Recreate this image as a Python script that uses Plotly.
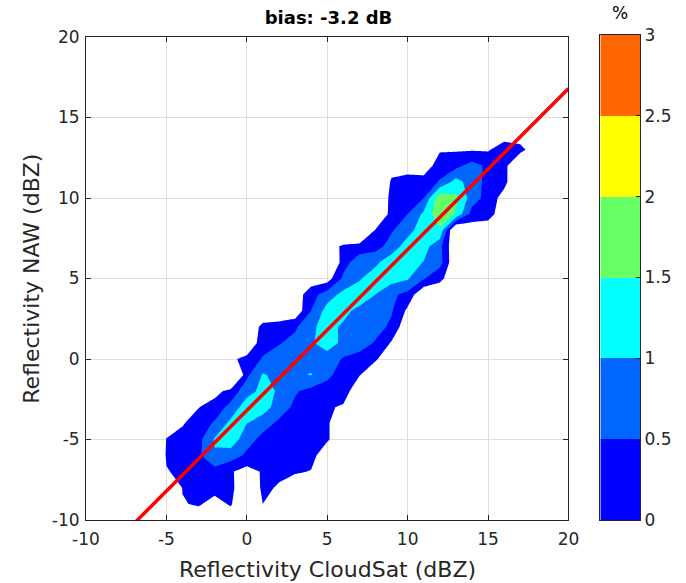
import numpy as np
import plotly.graph_objects as go

# ---------------- data ----------------
bias_db = -3.2
x_bins = list(range(-6, 19))          # CloudSat reflectivity bins (dBZ)
y_bins = list(range(-10, 15))         # NAW reflectivity bins (dBZ)
OUTSIDE = -0.3                        # empty bins (no samples)

# percent of samples per bin: {y_bin: (first x_bin, values...)}
pct_rows = {
    13: (12, [-0.05, -0.05, -0.05, -0.05, 0.3, 0.15]),
    12: (12, [0.25, 0.35, 0.7, 0.4, 0.15, -0.6]),
    11: (8, [-1, 0.1, 0.25, 0.2, 0.55, 1.2, 0.75, 0.35, 0.15, -0.6]),
    10: (8, [-1, 0.25, 0.3, 0.5, 1.9, 1.6, 0.75, 0.3, -0.2]),
    9: (8, [-1, 0.3, 0.5, 1.1, 1.9, 1.45, 0.3, 0.2]),
    8: (6, [-1, -1, 0.05, 0.45, 0.8, 1.3, 1.42, -0.8]),
    7: (5, [-0.3, 0.1, 0.2, 0.3, 0.7, 1.25, 1.2, 0.65, -0.5]),
    6: (5, [-1, 0.3, 0.8, 0.9, 1.3, 1.2, 0.98, 0.7, -0.5]),
    5: (5, [-0.25, 0.6, 0.95, 1.25, 1.2, 1.05, 0.55, 0.1]),
    4: (4, [0.3, 0.75, 1.15, 1.25, 1.0, 0.6, 0.35, -0.5]),
    3: (3, [-0.4, 0.5, 1.2, 1.1, 0.9, 0.8, 0.55, -0.1]),
    2: (0, [-0.3, 0.1, 0.15, 0.4, 0.95, 1.1, 0.95, 0.8, 0.7, 0.4, -0.4]),
    1: (0, [-0.5, 0.3, 0.45, 0.7, 0.95, 1.2, 0.9, 0.75, 0.45, -0.05]),
    0: (-1, [-0.1, 0.15, 0.55, 0.85, 0.85, 0.9, 0.8, 0.45, 0.3, 0.05]),
    -1: (-1, [-1.5, 0.4, 1.05, 0.85, 0.95, 1.02, 0.6, 0.3, 0.02]),
    -2: (-2, [-0.2, 0.2, 0.8, 1.15, 0.95, 0.55, 0.35, 0.3, 0.2, -0.3]),
    -3: (-3, [-0.02, 0.25, 0.65, 1.3, 1.25, 0.75, 0.4, 0.3, 0.05, -0.05]),
    -4: (-4, [-0.05, 0.3, 0.55, 1.15, 1.0, 0.7, 0.4, 0.3, 0.25, 0.05]),
    -5: (-6, [-1, 0.02, 0.2, 0.35, 1.05, 1.3, 0.7, 0.35, 0.25, 0.25, 0.2, 0.05]),
    -6: (-6, [-1, 0.05, 0.2, 0.4, 0.95, 0.75, 0.4, 0.3, 0.25, 0.2, 0.15]),
    -7: (-5, [-0.03, 0.1, 0.35, 0.3, 0.05, -0.2, 0.05, 0.1, 0.05, -0.02]),
    -8: (-5, [-1, 0.02, 0.2, 0.15, 0.15, -0.5, 0.1, -0.05]),
    -9: (-4, [-0.03, 0.05, -0.15, 0.05, -0.5, 0.0]),
}

levels = [0, 0.5, 1, 1.5, 2, 2.5, 3]
level_colors = ["#0000FF", "#0066FF", "#00FFFF", "#66FF66", "#FFFF00", "#FF6600"]
cbar_ticktext = ["0", "0.5", "1", "1.5", "2", "2.5", "3"]
axis_ticks = [-10, -5, 0, 5, 10, 15, 20]
axis_ticktext = ["-10", "-5", "0", "5", "10", "15", "20"]
line_x = [-10, 20]

# ---------------- build grid ----------------
Z = np.full((len(y_bins), len(x_bins)), OUTSIDE)
for yb, (x0, vals) in pct_rows.items():
    r = y_bins.index(yb)
    c = x_bins.index(x0)
    Z[r, c:c + len(vals)] = vals

# contour fill colorscale (plotly maps band k center to (k+1)/7, background to 0)
nb = len(level_colors)
n = nb + 1
cs = [[0, "rgba(255,255,255,0)"], [0.5 / n, "rgba(255,255,255,0)"]]
for k, col in enumerate(level_colors):
    cs.append([(k + 0.5) / n, col])
    cs.append([min((k + 1.5) / n, 1.0), col])
cs[-1][0] = 1.0

# discrete colorscale for the colour bar
cb_cs = []
for k, col in enumerate(level_colors):
    cb_cs.append([k / nb, col])
    cb_cs.append([(k + 1) / nb, col])
cb_centers = [(levels[k] + levels[k + 1]) / 2 for k in range(nb)]

W, H = 686, 583
L, R, T, B = 86, 20, 35, 63
pw, ph = W - L - R, H - T - B

def py2paper(p):
    return min(1.0, max(0.0, (H - B - p) / ph))

def px2paper(p):
    return (p - L) / pw

fig = go.Figure()
fig.add_trace(go.Contour(
    x=x_bins, y=y_bins, z=Z,
    autocontour=False,
    contours=dict(start=levels[0], end=levels[-1], size=levels[1] - levels[0],
                  coloring="fill", showlines=False),
    line=dict(width=0, smoothing=0),
    colorscale=cs, showscale=False, hoverinfo="skip",
    xaxis="x", yaxis="y",
))
line_y = [v + bias_db for v in line_x]
fig.add_trace(go.Scatter(
    x=line_x, y=line_y, mode="lines",
    line=dict(color="#FF0000", width=3.5), showlegend=False, hoverinfo="skip",
    xaxis="x", yaxis="y",
))
fig.add_trace(go.Heatmap(
    x=[0], y=cb_centers, z=[[v] for v in cb_centers],
    colorscale=cb_cs, zmin=levels[0], zmax=levels[-1], showscale=False,
    hoverinfo="skip", xaxis="x2", yaxis="y2",
))

font_family = "DejaVu Sans"
tick_col = "#262626"
ax_common = dict(
    showline=True, linecolor=tick_col, linewidth=1, mirror="allticks",
    ticks="inside", ticklen=5, tickcolor=tick_col,
    showgrid=True, gridcolor="#DDDDDD", gridwidth=1, zeroline=False,
    tickfont=dict(family=font_family, size=17, color=tick_col),
    tickmode="array", tickvals=axis_ticks, ticktext=axis_ticktext,
)
main_x_dom = [0, px2paper(571)]
main_y_dom = [py2paper(520), py2paper(37)]

fig.update_layout(
    width=W, height=H,
    margin=dict(l=L, r=R, t=T, b=B),
    paper_bgcolor="white", plot_bgcolor="white",
    showlegend=False,
    xaxis=dict(domain=main_x_dom, range=[-10, 20], anchor="y",
               ticklabelstandoff=4, **ax_common),
    yaxis=dict(domain=main_y_dom, range=[-10, 20], anchor="x",
               ticklabelstandoff=2, **ax_common),
    xaxis2=dict(domain=[px2paper(603), px2paper(643)], range=[-0.5, 0.5],
                anchor="y2", showline=True, linecolor=tick_col, mirror=True,
                showticklabels=False, ticks="", showgrid=False, zeroline=False),
    yaxis2=dict(domain=[py2paper(520.5), py2paper(35)], range=[0, 3],
                anchor="x2", side="right", showline=True, linecolor=tick_col,
                mirror=True, ticks="inside", ticklen=4, tickcolor=tick_col,
                tickmode="array", tickvals=levels, ticktext=cbar_ticktext,
                tickfont=dict(family=font_family, size=17, color=tick_col),
                showgrid=False, zeroline=False),
    title=dict(text="<b>bias: -3.2 dB</b>", x=328.5 / W, xanchor="center",
               y=1 - 18 / H, yanchor="middle",
               font=dict(family=font_family, size=18, color="black")),
    annotations=[
        dict(text="Reflectivity CloudSat (dBZ)", xref="paper", yref="paper",
             x=(sum(main_x_dom)) / 2, y=(H - B - 569) / ph, xanchor="center",
             yanchor="middle", showarrow=False,
             font=dict(family=font_family, size=22, color=tick_col)),
        dict(text="Reflectivity NAW (dBZ)", xref="paper", yref="paper",
             x=px2paper(31), y=(sum(main_y_dom)) / 2, xanchor="center",
             yanchor="middle", textangle=-90, showarrow=False,
             font=dict(family=font_family, size=22, color=tick_col)),
        dict(text="%", xref="paper", yref="paper",
             x=px2paper(623), y=(H - B - 13) / ph, xanchor="center",
             yanchor="middle", showarrow=False,
             font=dict(family=font_family, size=17, color="black")),
    ],
)

fig.write_html("out.html")
